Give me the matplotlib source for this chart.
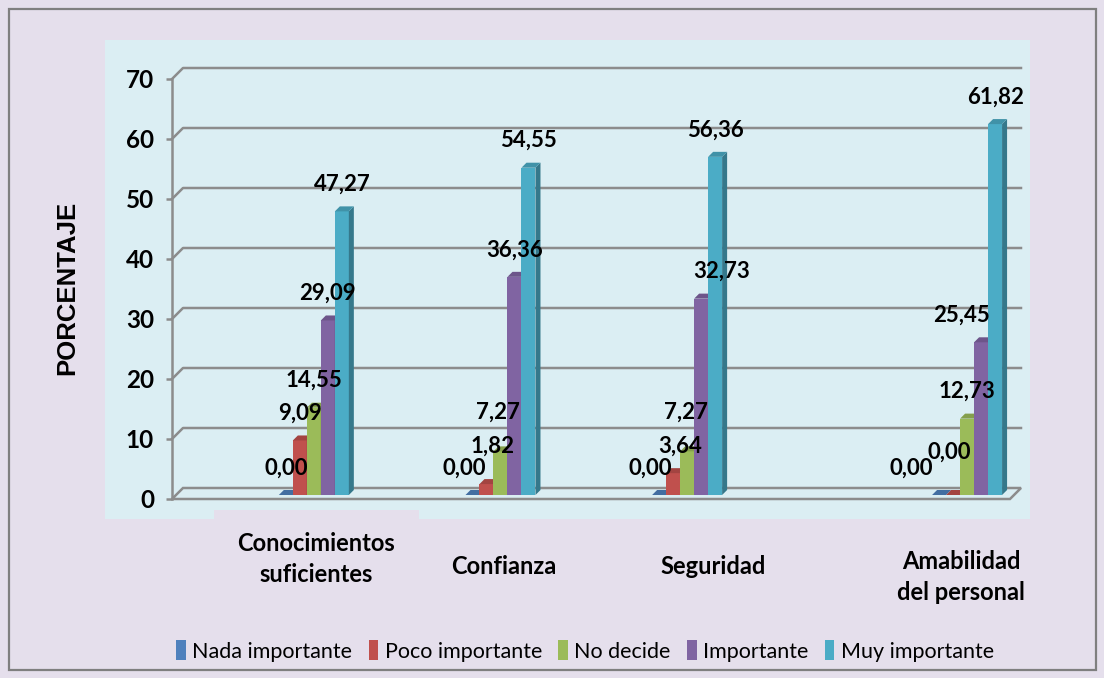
import matplotlib.pyplot as plt
from matplotlib.patches import Rectangle, Polygon, Patch
import matplotlib.colors as mcolors

# datos
categorias = ['Conocimientos\nsuficientes', 'Confianza', 'Seguridad', 'Amabilidad\ndel personal']
series = ['Nada importante', 'Poco importante', 'No decide', 'Importante', 'Muy importante']
nada = [0.00, 0.00, 0.00, 0.00]
poco = [9.09, 1.82, 3.64, 0.00]
no_decide = [14.55, 7.27, 7.27, 12.73]
importante = [29.09, 36.36, 32.73, 25.45]
muy = [47.27, 54.55, 56.36, 61.82]
yticks = [0, 10, 20, 30, 40, 50, 60, 70]

valores = [nada, poco, no_decide, importante, muy]
colores = ['#4F81BD', '#C0504D', '#9BBB59', '#8064A2', '#4BACC6']

# layout (pixeles de la figura)
W, H = 1104, 678
pos_grupo = [0, 1, 2, 3.5]
xmin, xmax = -0.76, 3.73
ax_l, ax_r, ax_b, ax_t = 172, 1010, 499, 79
prof_muro = 11      # profundidad de la pared del fondo
prof_barra = 5      # profundidad de las barras
base_barra = 4
ancho_px = 14

# ajustes manuales de las etiquetas (px: dx, dy hacia arriba)
nudge = [
    [(0, 0), (-8, 0), (-9, 0), (-28, 0)],
    [(0, 0), (6, 11), (7, 0), (-4, 16)],
    [(0, 0), (-3, 12), (-1, 12), (0, 0)],
    [(0, 0), (0, 0), (20, 0), (-20, 0)],
    [(0, 0), (0, 0), (0, 0), (0, 0)],
]
cat_off = [(2, -60), (3, -68), (26, -68), (-6, -78)]

plt.rcParams['font.family'] = ['Lato', 'DejaVu Sans']

fig = plt.figure(figsize=(W / 100, H / 100), dpi=100)
fig.patch.set_facecolor('#E5DFEC')

# marco exterior y area del grafico
fig.patches.append(Rectangle((9 / W, 1 - 670 / H), 1087 / W, 661 / H, transform=fig.transFigure,
                             facecolor='none', edgecolor='#7F7F7F', lw=1.6, zorder=-2))
fig.patches.append(Rectangle((105 / W, 1 - 519 / H), 925 / W, 479 / H, transform=fig.transFigure,
                             facecolor='#DBEEF3', edgecolor='none', zorder=-2))
fig.patches.append(Rectangle((214 / W, 1 - 519 / H), 205 / W, 9 / H, transform=fig.transFigure,
                             facecolor='#E5DFEC', edgecolor='none', zorder=-1))

ax = fig.add_axes([ax_l / W, 1 - ax_b / H, (ax_r - ax_l) / W, (ax_b - ax_t) / H])
ax.set_xlim(xmin, xmax)
ax.set_ylim(0, 70)
ax.patch.set_visible(False)

xs = (ax_r - ax_l) / (xmax - xmin)
ys = (ax_b - ax_t) / 70.0
ox, oy = prof_muro / xs, prof_muro / ys
dx, dy = prof_barra / xs, prof_barra / ys
b0 = base_barra / ys
bw = ancho_px / xs

gris = '#8C8C8C'
# lineas de division en la pared del fondo
for v in yticks[1:]:
    ax.plot([xmin, xmin + ox, xmax + ox], [v, v + oy, v + oy], color=gris, lw=1.8, zorder=1, clip_on=False)
# piso
ax.add_patch(Polygon([(xmin, 0), (xmax, 0), (xmax + ox, oy), (xmin + ox, oy)], closed=True,
                     facecolor='none', edgecolor=gris, lw=1.8, zorder=1, clip_on=False))

for spine in ['top', 'right', 'bottom']:
    ax.spines[spine].set_visible(False)
ax.spines['left'].set_color(gris)
ax.spines['left'].set_linewidth(1.8)
ax.set_xticks([])
ax.set_yticks(yticks)
ax.tick_params(axis='y', length=4, width=1.8, color=gris, pad=9, labelsize=17.5)
for t in ax.get_yticklabels():
    t.set_fontweight('bold')


def oscurecer(c, f):
    r, g, b = mcolors.to_rgb(c)
    return (r * f, g * f, b * f)


z = 3
for g in range(len(categorias)):
    for i, serie in enumerate(valores):
        h = serie[g]
        x0 = pos_grupo[g] + (i - 2.5) * bw
        x1 = x0 + bw
        col = colores[i]
        if h > 0:
            ax.bar(x0, h, width=bw, bottom=b0, align='edge', color=col, edgecolor='none',
                   zorder=z, clip_on=False)
            ax.add_patch(Polygon([(x1, b0), (x1, b0 + h), (x1 + dx, b0 + h + dy), (x1 + dx, b0 + dy)],
                                 closed=True, facecolor=oscurecer(col, 0.7), edgecolor='none',
                                 zorder=z, clip_on=False))
        ax.add_patch(Polygon([(x0, b0 + h), (x1, b0 + h), (x1 + dx, b0 + h + dy), (x0 + dx, b0 + h + dy)],
                             closed=True, facecolor=oscurecer(col, 0.85), edgecolor='none',
                             zorder=z, clip_on=False))
        z += 1

for g in range(len(categorias)):
    for i, serie in enumerate(valores):
        h = serie[g]
        xc = pos_grupo[g] + (i - 2) * bw
        ndx, ndy = nudge[i][g]
        ax.annotate(f'{h:.2f}'.replace('.', ','), (xc, b0 + h), xytext=(ndx, 27 + ndy),
                    textcoords='offset pixels', ha='center', va='center', fontsize=16,
                    fontweight='bold', zorder=50, annotation_clip=False)

for g, cat in enumerate(categorias):
    cdx, cdy = cat_off[g]
    ax.annotate(cat, (pos_grupo[g], 0), xytext=(cdx, cdy), textcoords='offset pixels',
                ha='center', va='center', fontsize=17, fontweight='bold', linespacing=1.4,
                annotation_clip=False)

fig.text(67 / W, 1 - 288 / H, 'PORCENTAJE', rotation=90, ha='center', va='center',
         fontsize=18.5, fontweight='bold', family=['Liberation Sans', 'DejaVu Sans'])

handles = [Patch(facecolor=c, edgecolor='none') for c in colores]
fig.legend(handles, series, loc='center', bbox_to_anchor=(585 / W, 1 - 651 / H), ncol=5,
           frameon=False, fontsize=15.5, handlelength=0.45, handleheight=1.0,
           handletextpad=0.3, columnspacing=0.75)

fig.savefig('out.png', dpi=100, facecolor=fig.get_facecolor())
